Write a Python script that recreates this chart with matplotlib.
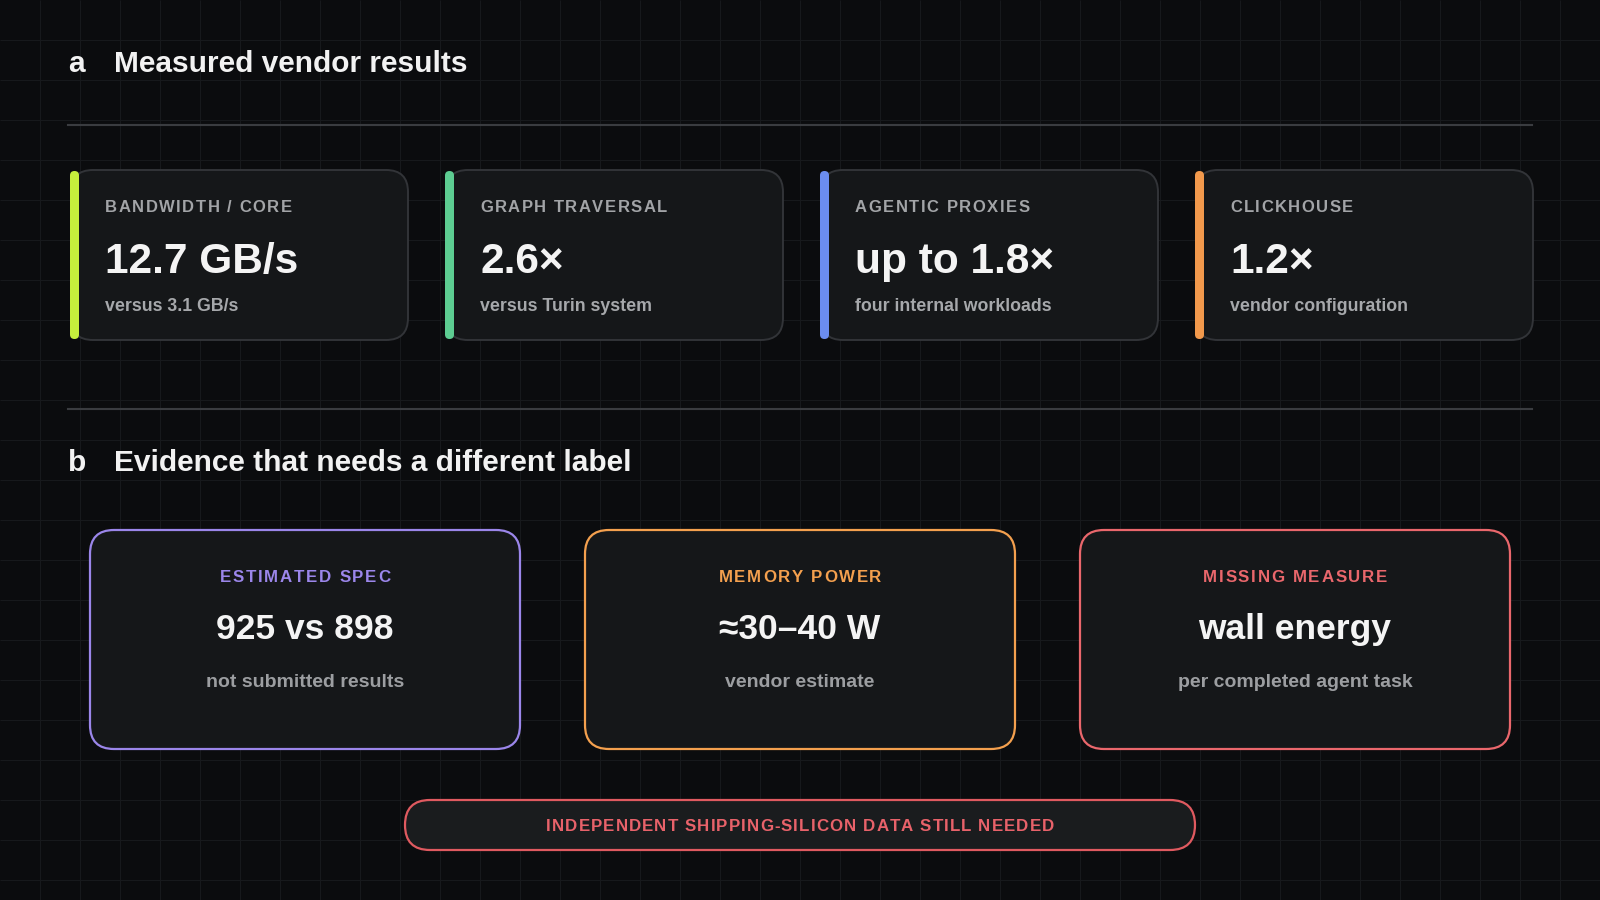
import matplotlib
matplotlib.use("Agg")
import matplotlib.pyplot as plt
import numpy as np
from matplotlib.patches import FancyBboxPatch
from matplotlib.font_manager import FontProperties, findfont, get_font

plt.rcParams['font.family'] = ['Liberation Sans', 'DejaVu Sans']

# panel a: measured vendor results
top_labels = ['BANDWIDTH / CORE', 'GRAPH TRAVERSAL', 'AGENTIC PROXIES', 'CLICKHOUSE']
top_values = ['12.7 GB/s', '2.6×', 'up to 1.8×', '1.2×']
top_notes = ['versus 3.1 GB/s', 'versus Turin system', 'four internal workloads', 'vendor configuration']
top_colors = ['#c6ef3c', '#5dcd92', '#6b8df0', '#f2994c']

# panel b: evidence that needs a different label
bot_labels = ['ESTIMATED SPEC', 'MEMORY POWER', 'MISSING MEASURE']
bot_values = ['925 vs 898', '≈30–40 W', 'wall energy']
bot_notes = ['not submitted results', 'vendor estimate', 'per completed agent task']
bot_colors = ['#9b86ea', '#f4a04e', '#ea676c']

banner = 'INDEPENDENT SHIPPING-SILICON DATA STILL NEEDED'

BG = '#0b0c0e'
CARD = '#151719'
W, H, DPI = 1600, 900, 100

fig = plt.figure(figsize=(W / DPI, H / DPI), dpi=DPI, facecolor=BG)
ax = fig.add_axes([0, 0, 1, 1])
ax.set_xlim(0, W)
ax.set_ylim(H, 0)
ax.axis('off')
ax.set_facecolor(BG)

# background grid
ax.vlines(np.arange(40, W, 40), 0, H, color='#17191c', lw=0.8, zorder=0)
ax.hlines(np.arange(40, H, 40), 0, W, color='#17191c', lw=0.8, zorder=0)


def spaced(x, y, s, size, color, spacing, ha='left', weight='bold'):
    # letter-spaced text, one glyph at a time
    prop = FontProperties(family=['Liberation Sans'], weight=weight, size=size)
    font = get_font(findfont(prop))
    font.set_size(size, DPI)
    adv = [font.load_char(ord(c)).linearHoriAdvance / 65536 for c in s]
    total = sum(adv) + spacing * (len(s) - 1)
    if ha == 'center':
        x = x - total / 2
    for c, a in zip(s, adv):
        ax.text(x, y, c, fontproperties=prop, color=color, ha='left', va='baseline', zorder=5)
        x += a + spacing


# section headers
ax.text(68, 72, 'a', color='#f2f2f2', fontsize=21.5, weight='bold', va='baseline')
ax.text(114, 72, 'Measured vendor results', color='#f2f2f2', fontsize=21.5, weight='bold', va='baseline')
ax.plot([68, 1532], [125, 125], color='#3a3c40', lw=1.5, zorder=1)
ax.plot([68, 1532], [409, 409], color='#3a3c40', lw=1.5, zorder=1)
ax.text(68, 471, 'b', color='#f2f2f2', fontsize=21.5, weight='bold', va='baseline')
ax.text(114, 471, 'Evidence that needs a different label', color='#f2f2f2', fontsize=21.5,
        weight='bold', va='baseline')

# top cards
for i in range(len(top_labels)):
    x0 = 70 + i * 375
    card = FancyBboxPatch((x0 + 1, 170), 337, 170, boxstyle='round,pad=0,rounding_size=22',
                          fc=CARD, ec='#323438', lw=1.4, zorder=2)
    ax.add_patch(card)
    bar = FancyBboxPatch((x0, 171), 9, 168, boxstyle='round,pad=0,rounding_size=4.5',
                         fc=top_colors[i], ec='none', zorder=3)
    ax.add_patch(bar)
    tx = x0 + 35
    spaced(tx, 212, top_labels[i], 12, '#a2a4a7', 1.5)
    ax.text(tx, 273, top_values[i], color='#f4f4f4', fontsize=30.5, weight='bold', va='baseline', zorder=5)
    ax.text(tx, 311, top_notes[i], color='#a6a8ab', fontsize=12.8, weight='bold', va='baseline', zorder=5)

# bottom cards
for i in range(len(bot_labels)):
    x0 = 90 + i * 495
    card = FancyBboxPatch((x0, 530), 430, 219, boxstyle='round,pad=0,rounding_size=24',
                          fc=CARD, ec=bot_colors[i], lw=1.6, zorder=2)
    ax.add_patch(card)
    cx = x0 + 215
    spaced(cx, 582, bot_labels[i], 12.2, bot_colors[i], 1.7, ha='center')
    ax.text(cx, 639, bot_values[i], color='#f4f4f4', fontsize=25.5, weight='bold', ha='center',
            va='baseline', zorder=5)
    ax.text(cx, 687, bot_notes[i], color='#9c9ea1', fontsize=14, weight='bold', ha='center',
            va='baseline', zorder=5)

# banner pill
pill = FancyBboxPatch((405, 800), 790, 50, boxstyle='round,pad=0,rounding_size=25',
                      fc='#1a1c1e', ec='#e05a60', lw=1.6, zorder=2)
ax.add_patch(pill)
spaced(800, 831, banner, 12.2, '#e8626a', 1.1, ha='center')

fig.savefig('out.png', dpi=DPI, facecolor=BG)
